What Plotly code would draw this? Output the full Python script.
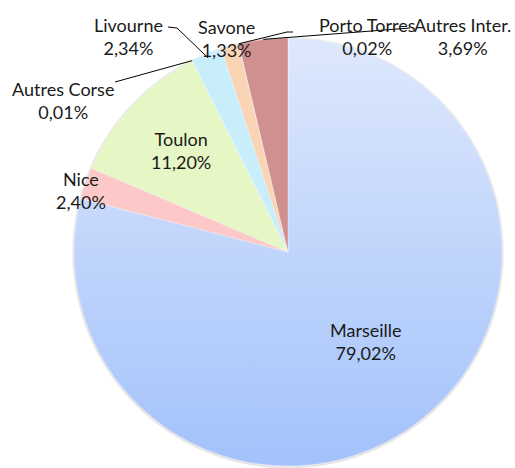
import math
import base64
import plotly.graph_objects as go

labels = ["Marseille", "Nice", "Toulon", "Autres Corse", "Livourne", "Savone", "Porto Torres", "Autres Inter."]
values = [79.02, 2.40, 11.20, 0.01, 2.34, 1.33, 0.02, 3.69]
# Marseille is drawn transparent over a vertical gradient disc (top/bottom colours below)
colors = ["rgba(0,0,0,0)", "#fcc8c8", "#e6f6c4", "#b9d3a2", "#c8edfb", "#f9d4b5", "#c9b6d8", "#d09090"]
marseille_top, marseille_bottom = "#dee8fc", "#a3c2fb"

W, H = 515, 468
CX, CY, R = 288, 252, 214

# label text centres (layout) and leader lines (elbow points, layout)
label_pos = {
    "Marseille": (366, 341), "Nice": (81, 190), "Toulon": (181, 150),
    "Autres Corse": (63, 100), "Livourne": (128, 36), "Savone": (226, 38),
    "Porto Torres": (367, 36), "Autres Inter.": (462, 36),
}
leaders = {
    "Autres Corse": ([(115, 82)], 1.0),
    "Livourne": ([(168, 27), (177, 28)], 0.98),
    "Porto Torres": ([(293, 32), (287, 32)], 1.0),
    "Autres Inter.": ([(410, 28)], 1.0),
}

S = 2 * R + 6
svg = (
    f'<svg xmlns="http://www.w3.org/2000/svg" width="{S}" height="{S}" viewBox="0 0 {S} {S}">'
    f'<defs><linearGradient id="g" x1="0" y1="0" x2="0" y2="1">'
    f'<stop offset="0" stop-color="{marseille_top}"/><stop offset="1" stop-color="{marseille_bottom}"/>'
    f'</linearGradient></defs>'
    f'<circle cx="{S/2}" cy="{S/2 + 0.8}" r="{R + 1.6}" fill="rgba(0,0,0,0.10)"/>'
    f'<circle cx="{S/2}" cy="{S/2}" r="{R}" fill="url(#g)"/></svg>'
)
src = "data:image/svg+xml;base64," + base64.b64encode(svg.encode()).decode()

fig = go.Figure()
fig.add_trace(go.Pie(
    labels=labels, values=values, sort=False, direction="clockwise", rotation=0,
    marker=dict(colors=colors, line=dict(color="rgba(255,255,255,0.5)", width=0.6)),
    textinfo="none", hoverinfo="label+percent", showlegend=False,
    domain=dict(x=[(CX - R) / W, (CX + R) / W], y=[(H - CY - R) / H, (H - CY + R) / H]),
))

total = sum(values)
cum = 0.0
mids = {}
for lab, v in zip(labels, values):
    mids[lab] = (cum + v / 2) / total * 2 * math.pi
    cum += v

shapes = []
for lab, (pts, f) in leaders.items():
    a = mids[lab]
    sx, sy = CX + R * f * math.sin(a), CY - R * f * math.cos(a)
    path_pts = pts + [(sx, sy)]
    d = "M " + " L ".join(f"{x:.1f},{y:.1f}" for x, y in path_pts)
    shapes.append(dict(type="path", path=d, xref="x", yref="y",
                       line=dict(color="black", width=1), layer="above"))

annotations = []
for lab, v in zip(labels, values):
    x, y = label_pos[lab]
    txt = f"{lab}<br>{('%.2f' % v).replace('.', ',')}%"
    annotations.append(dict(x=x, y=y, xref="x", yref="y", text=txt, showarrow=False,
                            font=dict(family="Lato", size=18, color="#1a1a1a"),
                            xanchor="center", yanchor="middle", align="center"))

fig.update_layout(
    width=W, height=H, margin=dict(l=0, r=0, t=0, b=0),
    paper_bgcolor="white", plot_bgcolor="rgba(0,0,0,0)",
    xaxis=dict(range=[0, W], visible=False, fixedrange=True),
    yaxis=dict(range=[H, 0], visible=False, fixedrange=True),
    shapes=shapes, annotations=annotations,
    images=[dict(source=src, xref="paper", yref="paper",
                 x=(CX - S / 2) / W, y=(H - CY + S / 2) / H,
                 sizex=S / W, sizey=S / H, xanchor="left", yanchor="top",
                 sizing="stretch", layer="below")],
)
fig.write_html("out.html", config={"displayModeBar": False},
               post_script="document.body.style.margin='0';document.body.style.overflow='hidden';")
